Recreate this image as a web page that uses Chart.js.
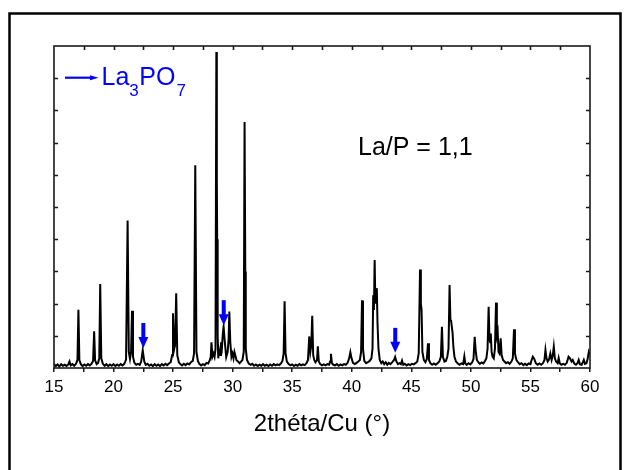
<!DOCTYPE html>
<html>
<head>
<meta charset="utf-8">
<script src="https://cdn.jsdelivr.net/npm/chart.js@4/dist/chart.umd.min.js"></script>
<style>
html,body{margin:0;padding:0;background:#fff;}
canvas{display:block;}
</style>
</head>
<body>
<canvas id="c" width="624" height="470"></canvas>
<script>
// ---- data ----
const twoTheta = [
15.00,15.15,15.30,15.45,15.60,15.75,15.90,16.05,16.20,16.30,16.40,16.55,16.70,16.85,16.97,17.05,17.13,17.25,
17.40,17.55,17.70,17.85,18.00,18.15,18.28,18.37,18.45,18.58,18.70,18.80,18.88,18.97,19.10,
19.25,19.40,19.55,19.70,19.85,20.00,20.15,20.30,20.45,20.60,20.75,20.90,
21.05,21.18,21.28,21.38,21.47,21.55,21.63,21.75,21.90,22.05,22.20,22.32,22.45,22.58,22.70,22.85,
23.00,23.15,23.30,23.45,23.60,23.75,23.90,24.05,24.20,24.35,24.50,24.65,24.80,
24.92,24.99,25.07,25.16,25.26,25.35,25.48,25.60,25.75,25.90,26.05,26.20,26.35,26.50,26.65,26.76,26.86,26.96,27.08,
27.20,27.35,27.50,27.65,27.80,27.95,28.08,28.16,28.22,28.30,28.40,28.48,28.56,28.63,28.67,28.70,28.74,28.79,
28.86,28.94,29.02,29.10,29.18,29.24,29.30,29.38,29.46,29.58,29.66,29.72,29.80,29.90,29.98,30.07,30.15,30.22,30.32,30.45,30.58,30.70,30.82,
30.93,31.00,31.06,31.10,31.20,31.35,31.50,31.65,31.80,31.95,32.10,32.25,32.40,32.55,32.70,32.85,33.00,33.15,33.30,33.45,33.60,33.75,33.90,34.05,
34.18,34.28,34.36,34.44,34.55,34.70,34.85,35.00,35.15,35.30,35.45,35.60,35.75,35.90,36.05,
36.20,36.32,36.43,36.52,36.60,36.68,36.76,36.85,36.95,37.08,37.15,37.23,37.35,37.50,37.65,37.80,37.95,38.10,
38.18,38.25,38.33,38.45,38.60,38.75,38.90,39.05,39.20,39.35,39.50,39.65,39.78,39.88,39.98,40.10,40.25,40.40,40.55,40.68,
40.78,40.86,40.94,41.05,41.20,41.35,41.50,41.65,41.74,41.80,41.86,41.92,41.98,42.04,42.10,42.16,42.24,42.35,
42.48,42.60,42.72,42.85,42.98,43.10,43.25,43.40,43.55,43.64,43.75,43.88,44.00,44.12,44.22,44.32,44.45,44.60,44.75,44.90,45.05,45.20,45.35,45.50,
45.62,45.73,45.80,45.86,45.93,46.05,46.18,46.30,46.40,46.48,46.60,46.75,46.90,47.05,47.20,47.35,47.48,47.57,47.65,47.78,47.90,
48.02,48.12,48.21,48.28,48.33,48.40,48.46,48.53,48.62,48.75,48.90,49.05,49.20,49.35,49.45,49.53,49.65,49.80,49.95,50.10,
50.22,50.32,50.40,50.50,50.62,50.75,50.90,51.05,51.18,51.30,51.40,51.49,51.56,51.62,51.67,51.74,51.82,51.92,52.02,52.11,52.18,52.25,52.32,52.40,52.50,52.58,52.70,52.82,52.95,
53.10,53.25,53.40,53.52,53.62,53.70,53.82,53.95,54.10,54.25,54.40,54.55,54.70,54.85,55.00,55.10,55.20,55.32,55.45,55.60,55.75,55.90,
56.05,56.18,56.26,56.35,56.45,56.55,56.67,56.78,56.88,56.96,57.05,57.15,57.28,57.37,57.46,57.60,57.75,57.90,
58.05,58.20,58.32,58.45,58.55,58.68,58.82,58.95,59.05,59.15,59.30,59.40,59.48,59.58,59.70,59.80,59.90,60.00
];
const intensity = [
1.3,0.6,1.1,0.5,1.2,0.7,1.0,0.6,1.1,2.0,0.8,1.2,0.7,1.3,2.5,18.1,2.5,1.2,
0.6,1.1,0.7,1.2,0.8,1.3,2.2,11.4,2.4,1.2,1.6,3.0,26.1,3.0,1.3,
0.7,1.2,0.6,1.1,0.7,1.2,0.6,1.1,0.7,1.2,0.8,1.3,
2.6,45.8,5.0,2.8,5.0,17.8,3.5,1.6,1.0,1.3,1.0,2.0,5.5,2.0,1.0,1.3,
0.7,1.1,0.6,1.2,0.7,1.1,0.6,1.2,0.8,1.3,0.9,1.4,1.8,
4.0,17.0,5.5,7.0,23.2,4.0,1.8,1.2,0.8,1.3,0.9,1.4,1.1,1.8,2.2,4.5,63.0,5.0,2.2,
1.3,0.8,1.2,0.9,1.6,1.4,2.4,3.5,8.0,3.5,4.5,3.5,6.0,98.1,58.0,40.0,10.0,3.0,
5.5,4.0,8.0,6.5,11.0,12.8,10.0,6.5,3.4,5.0,9.0,17.5,8.0,3.5,4.5,3.0,5.0,4.0,2.4,2.0,1.5,2.0,2.5,
5.0,76.4,30.0,6.0,2.5,1.4,1.0,1.3,0.7,1.1,0.6,1.0,0.7,1.2,0.7,1.0,0.6,1.1,0.7,1.2,0.8,1.1,0.9,1.4,
2.2,4.5,20.7,4.5,2.0,1.2,0.8,1.1,0.6,1.0,0.7,1.2,0.8,1.1,0.9,
1.5,2.5,9.8,5.0,7.0,16.2,4.0,2.5,1.8,2.5,6.7,2.0,1.2,0.8,1.1,0.8,1.2,1.0,
2.0,4.4,1.5,1.0,0.8,1.2,0.7,1.1,0.8,1.2,1.0,1.6,3.0,4.9,3.0,1.6,1.2,1.6,2.0,2.5,
5.0,21.0,6.0,2.2,1.5,1.8,2.2,3.0,6.0,22.6,18.0,33.5,20.0,22.0,24.8,14.0,6.0,2.5,
1.5,2.0,1.2,1.8,1.0,1.6,1.2,1.8,2.5,3.4,2.0,1.2,1.5,1.2,2.3,1.0,1.3,0.8,1.2,0.9,1.3,1.1,1.5,2.0,
4.5,30.6,20.0,18.0,5.0,2.5,1.8,2.8,7.7,2.5,1.5,1.0,1.4,1.0,1.5,2.0,3.5,12.8,3.5,2.0,2.2,
3.5,6.0,25.8,15.0,14.9,12.8,11.0,6.6,3.5,2.0,1.4,1.0,1.4,1.2,3.6,1.4,1.0,1.5,1.1,1.7,
2.8,9.7,5.5,2.5,1.8,1.3,1.7,1.4,2.2,3.0,6.0,19.0,9.0,8.0,10.7,5.0,3.5,3.0,6.0,20.3,10.0,11.2,5.0,4.5,9.2,4.0,2.5,2.0,1.5,
1.8,1.3,2.0,3.0,12.0,4.5,2.5,1.8,1.2,1.5,0.9,1.3,0.9,1.4,1.2,2.5,3.5,2.8,1.5,1.0,1.4,1.0,
1.5,2.5,5.6,3.0,2.0,2.5,4.5,2.5,4.0,6.6,3.0,2.0,1.5,3.1,1.5,1.0,1.3,1.0,
1.6,3.5,3.0,2.0,2.5,1.4,1.0,1.5,2.5,1.2,1.0,1.8,2.5,1.3,1.5,2.8,5.0,4.0
];
// La3PO7 marker arrows: position (2theta) and tip height (same units as intensity)
const arrowTheta = [22.5, 29.25, 43.65];
const arrowTip = [6.2, 13.3, 4.7];
// axis ticks
const xTickLabels = ['15','20','25','30','35','40','45','50','55','60'];
const xMin = 15, xMax = 60, xStep = 2.5;
const yMin = 0, yMax = 100, yStep = 10;
const xTitle = '2théta/Cu (°)';
const ratioText = 'La/P = 1,1';

if (twoTheta.length !== intensity.length) console.error('length mismatch', twoTheta.length, intensity.length);

const FONT = '"Liberation Sans", Arial, Helvetica, sans-serif';
const BLUE = '#0000ff';

const decorations = {
  id: 'decorations',
  beforeDraw(chart) {
    const ctx = chart.ctx;
    ctx.save();
    ctx.fillStyle = '#fff';
    ctx.fillRect(0, 0, chart.width, chart.height);
    ctx.strokeStyle = '#000';
    ctx.lineWidth = 2.5;
    ctx.strokeRect(9.5, 13.5, 611, 600);
    ctx.restore();
  },
  afterDatasetsDraw(chart) {
    const {ctx, chartArea: a, scales: {x, y}} = chart;
    ctx.save();
    // frame
    ctx.strokeStyle = '#1a1a1a';
    ctx.lineWidth = 1.6;
    ctx.strokeRect(a.left, a.top, a.right - a.left, a.bottom - a.top);
    ctx.beginPath();
    // inward top ticks
    for (let v = xMin + xStep; v < xMax; v += xStep) {
      const px = Math.round(x.getPixelForValue(v)) + 0.5;
      ctx.moveTo(px, a.top); ctx.lineTo(px, a.top + 4);
    }
    // inward left / right ticks
    for (let v = yMin + yStep; v < yMax; v += yStep) {
      const py = Math.round(y.getPixelForValue(v)) + 0.5;
      ctx.moveTo(a.left, py); ctx.lineTo(a.left + 4, py);
      ctx.moveTo(a.right, py); ctx.lineTo(a.right - 4, py);
    }
    ctx.stroke();

    // down arrows marking La3PO7 peaks
    ctx.fillStyle = BLUE;
    arrowTheta.forEach((t, i) => {
      const px = x.getPixelForValue(t);
      const py = y.getPixelForValue(arrowTip[i]);
      ctx.fillRect(px - 2, py - 25, 4, 15);
      ctx.beginPath();
      ctx.moveTo(px - 5, py - 11);
      ctx.lineTo(px + 5, py - 11);
      ctx.lineTo(px, py);
      ctx.closePath();
      ctx.fill();
    });

    // legend arrow + La3PO7 label
    ctx.strokeStyle = BLUE;
    ctx.lineWidth = 2.2;
    ctx.beginPath();
    ctx.moveTo(65, 77.7); ctx.lineTo(92, 77.7);
    ctx.stroke();
    ctx.beginPath();
    ctx.moveTo(90, 75.2); ctx.lineTo(98.5, 77.7); ctx.lineTo(90, 80.2);
    ctx.closePath(); ctx.fill();

    ctx.textBaseline = 'alphabetic';
    ctx.textAlign = 'left';
    ctx.font = '25px ' + FONT;
    ctx.fillText('La', 101.5, 85);
    let w = ctx.measureText('La').width;
    ctx.font = '17px ' + FONT;
    ctx.fillText('3', 101.5 + w, 96);
    let w3 = ctx.measureText('3').width;
    ctx.font = '25px ' + FONT;
    ctx.fillText('PO', 101.5 + w + w3 + 0.5, 85);
    let wpo = ctx.measureText('PO').width;
    ctx.font = '17px ' + FONT;
    ctx.fillText('7', 101.5 + w + w3 + 0.5 + wpo + 1, 96);

    // ratio label
    ctx.fillStyle = '#000';
    ctx.font = '25px ' + FONT;
    ctx.fillText(ratioText, 358, 155);
    ctx.restore();
  }
};

new Chart(document.getElementById('c'), {
  type: 'line',
  data: {
    datasets: [{
      data: twoTheta.map((t, i) => ({x: t, y: intensity[i]})),
      borderColor: '#000',
      borderWidth: 2,
      pointRadius: 0,
      tension: 0,
      fill: false
    }]
  },
  options: {
    responsive: false,
    animation: false,
    devicePixelRatio: 1,
    layout: {padding: {left: 54, right: 34, top: 46, bottom: 0}},
    plugins: {legend: {display: false}, tooltip: {enabled: false}},
    scales: {
      x: {
        type: 'linear',
        min: xMin, max: xMax,
        afterFit(scale) { scale.height = 102; },
        border: {display: false},
        grid: {display: true, drawOnChartArea: false, drawTicks: true, tickLength: 4, color: '#1a1a1a', lineWidth: 1.5},
        ticks: {
          stepSize: xStep,
          autoSkip: false,
          maxRotation: 0,
          padding: 5,
          color: '#000',
          font: {family: FONT, size: 17},
          callback(v) {
            const s = String(v);
            return xTickLabels.includes(s) ? s : '';
          }
        },
        title: {
          display: true,
          text: xTitle,
          color: '#000',
          font: {family: FONT, size: 24},
          padding: {top: 0, bottom: 31}
        }
      },
      y: {
        type: 'linear',
        display: false,
        min: yMin, max: yMax
      }
    }
  },
  plugins: [decorations]
});
</script>
</body>
</html>
